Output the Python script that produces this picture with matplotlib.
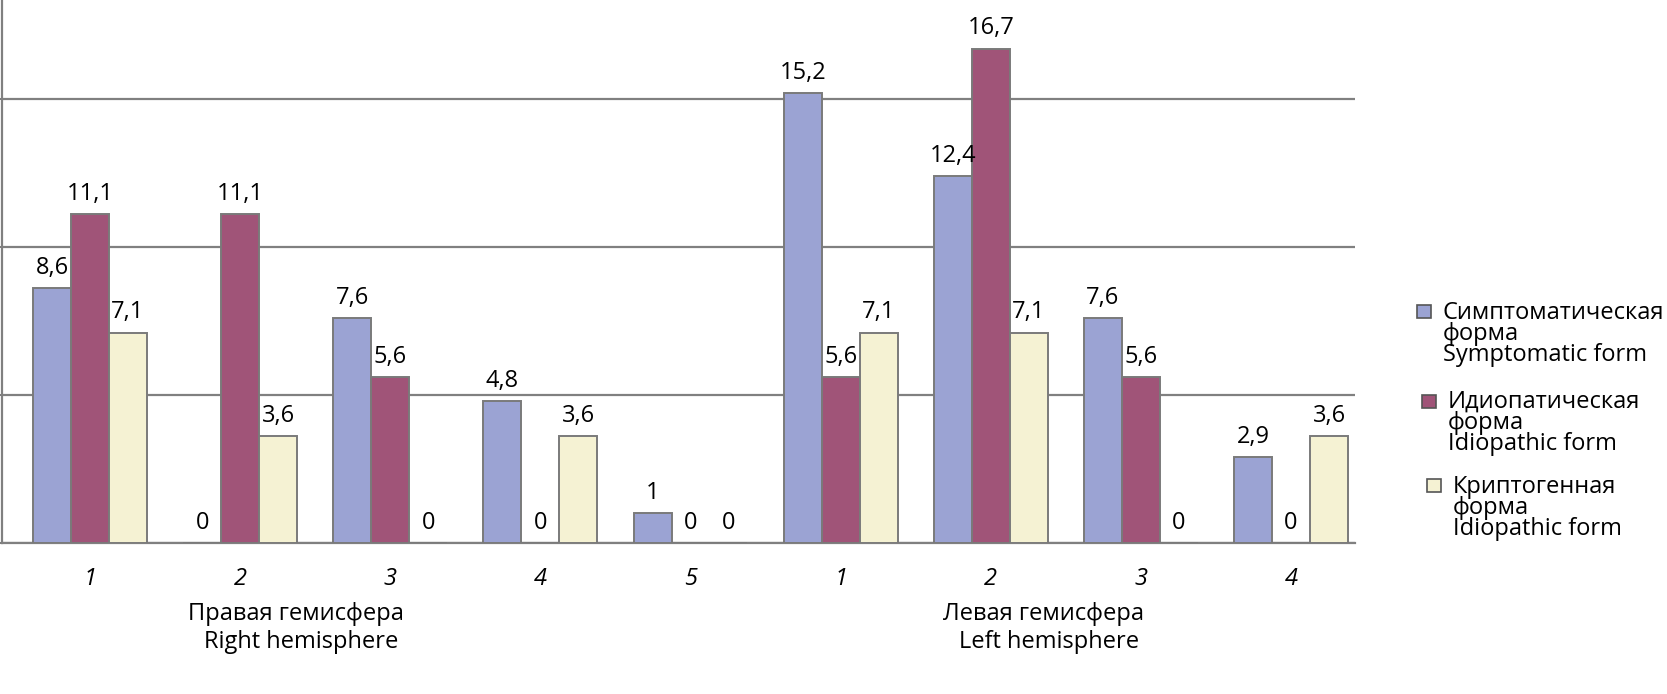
import numpy as np
import matplotlib
matplotlib.use("Agg")
import matplotlib.pyplot as plt
import matplotlib.transforms as mtrans
from matplotlib.patches import Rectangle

plt.rcParams['font.family'] = ['Open Sans', 'DejaVu Sans']

# data
groups = ['1', '2', '3', '4', '5', '1', '2', '3', '4']
symptomatic = [8.6, 0, 7.6, 4.8, 1, 15.2, 12.4, 7.6, 2.9]
idiopathic = [11.1, 11.1, 5.6, 0, 0, 5.6, 16.7, 5.6, 0]
cryptogenic = [7.1, 3.6, 0, 3.6, 0, 7.1, 7.1, 0, 3.6]
series_names = [['Симптоматическая', 'форма', 'Symptomatic form'],
                ['Идиопатическая', 'форма', 'Idiopathic form'],
                ['Криптогенная', 'форма', 'Idiopathic form']]
colors = ['#9ba3d3', '#a05478', '#f5f2d3']
hemi_labels = [('Правая гемисфера', 'Right hemisphere'),
               ('Левая гемисфера', 'Left hemisphere')]

W, H = 1667, 694
fig = plt.figure(figsize=(W / 100, H / 100), dpi=100)
ax = fig.add_axes([2 / W, 1 - 543 / H, 1353 / W, 543 / H])

x = np.arange(len(groups))
w = 0.253
edge = '#7a7a7a'
for i, vals in enumerate([symptomatic, idiopathic, cryptogenic]):
    bars = ax.bar(x + (i - 1) * w, vals, w, color=colors[i], edgecolor=edge,
                  linewidth=1.4, zorder=3)
    for b, v in zip(bars, vals):
        lab = ('%g' % v).replace('.', ',')
        ax.annotate(lab, (b.get_x() + b.get_width() / 2, v), xytext=(0, 6),
                    textcoords='offset points', ha='center', va='bottom',
                    fontsize=17, zorder=4)

ax.set_xlim(-0.586, 8.426)
ax.set_ylim(0, 18.34)
ax.set_yticks([0, 5, 10, 15])
ax.set_yticklabels([])
ax.tick_params(axis='y', length=3, color=edge, width=1.4)
ax.yaxis.grid(True, color='#808080', linewidth=1.6, zorder=0)
ax.set_xticks(x)
ax.set_xticklabels(groups, fontsize=17, style='italic')
ax.tick_params(axis='x', length=0, pad=17)
for s in ['top', 'right']:
    ax.spines[s].set_visible(False)
for s in ['left', 'bottom']:
    ax.spines[s].set_color('#808080')
    ax.spines[s].set_linewidth(1.6)

# hemisphere captions
tr = mtrans.blended_transform_factory(ax.transData, fig.transFigure)
for cx, (ru, en) in zip([1.37, 6.35], hemi_labels):
    fig.text(cx, 1 - 620 / H, ru, transform=tr, ha='center', va='baseline', fontsize=17)
    fig.text(cx + 0.04, 1 - 648 / H, en, transform=tr, ha='center', va='baseline', fontsize=17)

# legend drawn in pixel space
lg = fig.add_axes([0, 0, 1, 1], facecolor='none')
lg.set_xlim(0, W)
lg.set_ylim(H, 0)
lg.axis('off')
sq_x = [1417, 1422, 1427]
sq_y = [305, 395, 479]
base = [319, 408, 493]
for i, lines in enumerate(series_names):
    lg.add_patch(Rectangle((sq_x[i], sq_y[i]), 14, 13, facecolor=colors[i],
                           edgecolor='#555555', linewidth=1.2))
    for j, t in enumerate(lines):
        lg.text(sq_x[i] + 26, base[i] + 21 * j, t, ha='left', va='baseline', fontsize=17)

fig.savefig('out.png', dpi=100)
